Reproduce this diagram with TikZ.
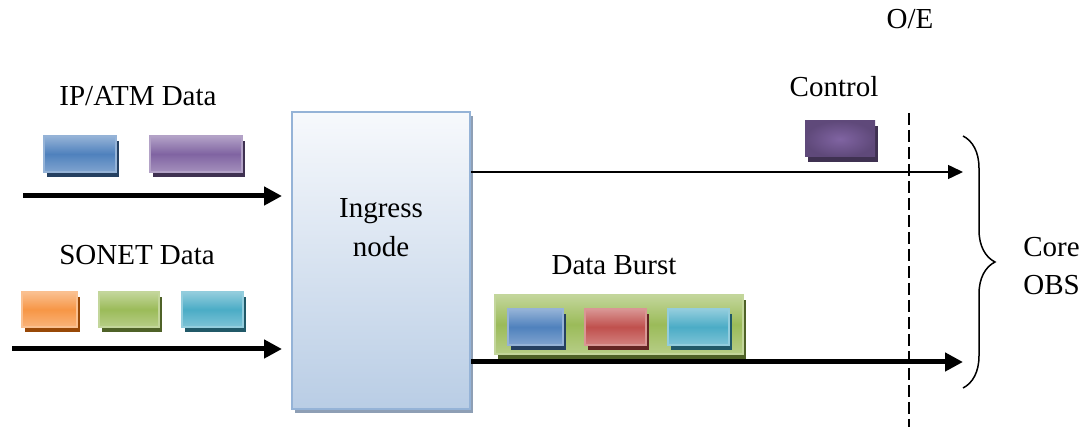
\documentclass[tikz,border=0pt]{standalone}
\usepackage{fontspec}
\setmainfont{Liberation Serif}
\usetikzlibrary{arrows.meta,shadows,decorations.pathreplacing}

% Office-style palette: base, light and dark tones
\definecolor{bluebase}{HTML}{4F81BD}\definecolor{bluelight}{HTML}{95B3D7}\definecolor{bluedark}{HTML}{254061}
\definecolor{purpbase}{HTML}{8064A2}\definecolor{purplight}{HTML}{B3A2C7}\definecolor{purpdark}{HTML}{3F3151}
\definecolor{orngbase}{HTML}{F79646}\definecolor{ornglight}{HTML}{FAC090}\definecolor{orngdark}{HTML}{984807}
\definecolor{grnbase}{HTML}{9BBB59}\definecolor{grnlight}{HTML}{C3D69B}\definecolor{grndark}{HTML}{4F6228}
\definecolor{cyanbase}{HTML}{4BACC6}\definecolor{cyanlight}{HTML}{93CDDD}\definecolor{cyandark}{HTML}{215968}
\definecolor{redbase}{HTML}{C0504D}\definecolor{redlight}{HTML}{D99694}\definecolor{reddark}{HTML}{632523}
\definecolor{ctrlouter}{HTML}{5F497A}
\definecolor{ingtop}{HTML}{F7F9FC}\definecolor{ingbot}{HTML}{B9CDE5}\definecolor{ingedge}{HTML}{95B3D7}\definecolor{ingshadow}{HTML}{8E9FB5}

\tikzset{
  lbl/.style={font=\fontsize{14.5}{19.5}\selectfont, inner sep=0pt, anchor=base},
  packet/.style args={#1/#2/#3}{rectangle, inner sep=0pt, line width=0.6pt,
    draw=#2, top color=#2, bottom color=#2!70!#1, middle color=#1,
    general shadow={fill=#3, shadow xshift=1.5pt, shadow yshift=-2.5pt}},
  fatarrow/.style={line width=2.5pt, -{Triangle[length=9pt,width=9pt]}},
  thinarrow/.style={line width=0.75pt, -{Triangle[length=7.5pt,width=7pt]}},
}

\begin{document}
\begin{tikzpicture}[x=0.5pt,y=-0.5pt]
\useasboundingbox (0,0) rectangle (1089,427);

% input labels and packets
\node[lbl] (iplbl) at (138,106) {IP/ATM Data};
\node[packet=bluebase/bluelight/bluedark, minimum width=36pt, minimum height=18pt] (ip1) at (80,154) {};
\node[packet=purpbase/purplight/purpdark, minimum width=46pt, minimum height=18pt] (ip2) at (196,154) {};

\node[lbl] (sonlbl) at (137,265) {SONET Data};
\node[packet=orngbase/ornglight/orngdark, minimum width=27.5pt, minimum height=17.5pt] (so1) at (49.5,309.5) {};
\node[packet=grnbase/grnlight/grndark, minimum width=30pt, minimum height=17.5pt] (so2) at (129,309.5) {};
\node[packet=cyanbase/cyanlight/cyandark, minimum width=30.5pt, minimum height=17.5pt] (so3) at (212.5,309.5) {};

% ingress node
\node[rectangle, inner sep=0pt, minimum width=89pt, minimum height=148.5pt,
      draw=ingedge, line width=1pt, top color=ingtop, bottom color=ingbot,
      general shadow={fill=ingshadow, shadow xshift=1.5pt, shadow yshift=-2pt}]
      (ingress) at (381,260.5) {};
\node[lbl, align=center] (inglbl) at (381,257) {Ingress\\node};

% input arrows
\coordinate (in1) at (23,196);
\coordinate (in2) at (12,349);
\draw[fatarrow, shorten >=4.5pt] (in1) -- (in1 -| ingress.west);
\draw[fatarrow, shorten >=4.5pt] (in2) -- (in2 -| ingress.west);

% O/E boundary
\node[lbl] (oe) at (910,29) {O/E};
\coordinate (oetop) at (909,113);
\coordinate (oebot) at (909,427);
\draw[line width=0.75pt, dash pattern=on 6pt off 2.5pt] (oetop) -- (oebot);

% control channel
\node[lbl] (ctrllbl) at (834,97) {Control};
\node[rectangle, inner sep=0pt, minimum width=35pt, minimum height=18pt,
      inner color=purpbase, outer color=ctrlouter,
      general shadow={fill=purpdark, shadow xshift=1.5pt, shadow yshift=-2.5pt}] (ctrl) at (840,139) {};
\coordinate (ctrlend) at (963,172);
\draw[thinarrow] (ingress.east |- ctrlend) -- (ctrlend);

% data burst
\node[lbl] (burstlbl) at (614,275) {Data Burst};
\node[packet=grnbase/grnlight/grndark, minimum width=124pt, minimum height=29.5pt] (burst) at (619,324.5) {};
\node[packet=bluebase/bluelight/bluedark, minimum width=27.5pt, minimum height=18pt] (b1) at (535.5,327) {};
\node[packet=redbase/redlight/reddark, minimum width=30.5pt, minimum height=18pt] (b2) at (615.5,327) {};
\node[packet=cyanbase/cyanlight/cyandark, minimum width=30.5pt, minimum height=18pt] (b3) at (698.5,327) {};
\coordinate (burstend) at (963,362);
\draw[fatarrow] (ingress.east |- burstend) -- (burstend);

% core network brace
\coordinate (brtop) at (963,136);
\coordinate (brbot) at (963,388);
\draw[line width=0.75pt, decorate, decoration={brace, amplitude=16pt}] (brtop) -- (brbot);
\node[lbl, anchor=base west] (core) at (1023,257) {Core};
\node[lbl, anchor=base west] (obs) at (1023,295) {OBS};
\end{tikzpicture}
\end{document}
